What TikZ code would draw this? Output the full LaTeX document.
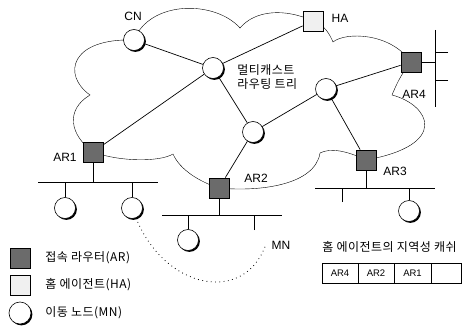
\documentclass[tikz,border=0pt]{standalone}
\usepackage{fontspec}
\setmainfont{Liberation Sans}
\newfontfamily\kr[LetterSpace=4]{Noto Sans CJK KR}
\usetikzlibrary{shadows,backgrounds,calc}
\tikzset{arnode/.style={draw=black,line width=0.8pt,fill=black!58,minimum size=20pt,inner sep=0pt},hanode/.style={draw=black,line width=0.7pt,fill=black!6,minimum size=20pt,inner sep=0pt,drop shadow={shadow xshift=1pt,shadow yshift=-1pt,fill=black,opacity=.8}},rtnode/.style={circle,draw=black,line width=0.6pt,fill=white,minimum size=21pt,inner sep=0pt,drop shadow={shadow xshift=1.4pt,shadow yshift=-1.4pt,fill=black,opacity=1}},lbl/.style={font=\fontsize{12}{14}\selectfont,inner sep=0pt},krlbl/.style={font=\kr\fontsize{12}{14}\selectfont,inner sep=0pt}}

\begin{document}
\begin{tikzpicture}[x=1pt,y=-1pt,line width=0.7pt,tree/.style={draw=black,line width=0.7pt},lan/.style={draw=black,line width=0.7pt},move/.style={draw=black,line width=0.8pt,dash pattern=on 0.8pt off 3.5pt},cell/.style={draw=black,line width=0.6pt,minimum height=20pt,inner sep=0pt,font=\fontsize{9.5}{10}\selectfont}]
\useasboundingbox (0,0) rectangle (462,329);
% routers and agents
\node[rtnode] (cn) at (134,40) {};
\node[rtnode] (mr1) at (213,68) {};
\node[rtnode] (mr2) at (326,89) {};
\node[rtnode] (mr3) at (253,132) {};
\node[hanode] (ha) at (313,21) {};
\node[arnode] (ar1) at (93,152) {};
\node[arnode] (ar2) at (219,188) {};
\node[arnode] (ar3) at (366,160) {};
\node[arnode] (ar4) at (411,62) {};
\node[lbl] (cntx) at (133,16) {CN};
\node[lbl] (hatx) at (340,18) {HA};
\node[lbl] (ar1tx) at (65,157) {AR1};
\node[lbl] (ar2tx) at (256,178) {AR2};
\node[lbl] (ar3tx) at (395,171) {AR3};
\node[lbl] (ar4tx) at (414,94) {AR4};
\node[krlbl,anchor=west,align=left] (mctx) at (237,77) {멀티캐스트\\라우팅 트리};
% cloud
\begin{scope}[on background layer]
\draw (cn.center) .. controls (150,0) and (215,0) .. (240,28) .. controls (255,10) and (285,8) .. (ha.center) .. controls (325,25) and (330,35) .. (333,42) .. controls (345,32) and (390,32) .. (ar4.center) .. controls (400,75) and (395,88) .. (392,95) .. controls (430,105) and (450,145) .. (ar3.center) .. controls (345,150) and (330,148) .. (320,153) .. controls (315,185) and (260,192) .. (ar2.center) .. controls (200,182) and (180,170) .. (173,154) .. controls (160,162) and (120,162) .. (ar1.center) .. controls (70,135) and (65,110) .. (90,95) .. controls (62,75) and (70,38) .. (cn.center);
\end{scope}
% multicast tree
\draw[tree] (cn) -- (mr1);
\draw[tree] (mr1) -- (ha);
\draw[tree] (mr1) -- (ar1);
\draw[tree] (mr1) -- (mr3);
\draw[tree] (mr3) -- (ar2);
\draw[tree] (mr3) -- (mr2);
\draw[tree] (mr2) -- (ar4);
\draw[tree] (mr2) -- (ar3);
% subnet of AR1
\coordinate (b1l) at (38,182);
\coordinate (b1r) at (158,182);
\draw[lan] (b1l) -- (b1r);
\draw[lan] (ar1) -- (ar1 |- b1l);
\node[rtnode] (mn1) at (65,208) {};
\node[rtnode] (mn2) at (132,208) {};
\draw[lan] (mn1) -- (mn1 |- b1l);
\draw[lan] (mn2) -- (mn2 |- b1l);
% subnet of AR2
\coordinate (b2l) at (162,215);
\coordinate (b2r) at (282,215);
\draw[lan] (b2l) -- (b2r);
\draw[lan] (ar2) -- (ar2 |- b2l);
\node[rtnode] (mn3) at (188,240) {};
\draw[lan] (mn3) -- (mn3 |- b2l);
\coordinate (t2) at (254,230);
\draw[lan] (t2) -- (t2 |- b2l);
% subnet of AR3
\coordinate (b3l) at (315,188);
\coordinate (b3r) at (435,188);
\draw[lan] (b3l) -- (b3r);
\draw[lan] (ar3) -- (ar3 |- b3l);
\node[rtnode] (mn4) at (409,211) {};
\draw[lan] (mn4) -- (mn4 |- b3l);
\coordinate (t3) at (342,202);
\draw[lan] (t3) -- (t3 |- b3l);
% subnet of AR4
\coordinate (b4t) at (435,30);
\coordinate (b4b) at (435,107);
\draw[lan] (b4t) -- (b4b);
\draw[lan] (ar4) -- (ar4 -| b4t);
\coordinate (s4a) at (448,52);
\coordinate (s4b) at (448,80);
\draw[lan] (s4a) -- (s4a -| b4t);
\draw[lan] (s4b) -- (s4b -| b4t);
% movement of MN
\coordinate (mnend) at (266,244);
\draw[move] (mn2) .. controls (165,290) and (245,305) .. (mnend);
\node[lbl] (mntx) at (281,245) {MN};
% legend
\node[arnode] (lgar) at (20,258) {};
\node[krlbl,anchor=west] (lgartx) at (45,258) {접속 라우터(AR)};
\node[hanode] (lgha) at (20,285) {};
\node[krlbl,anchor=west] (lghatx) at (45,285) {홈 에이전트(HA)};
\node[rtnode,minimum size=22pt] (lgmn) at (20,313) {};
\node[krlbl,anchor=west] (lgmntx) at (45,313) {이동 노드(MN)};
% binding cache
\node[krlbl,anchor=west] (cachetx) at (322,247) {홈 에이전트의 지역성 캐쉬};
\foreach \x/\w/\txt [count=\i] in {340/36/AR4,376/36/AR2,412.5/37/AR1,446/30/{}}
  \node[cell,minimum width=\w pt] (cell\i) at (\x,273) {\txt};
\end{tikzpicture}
\end{document}
